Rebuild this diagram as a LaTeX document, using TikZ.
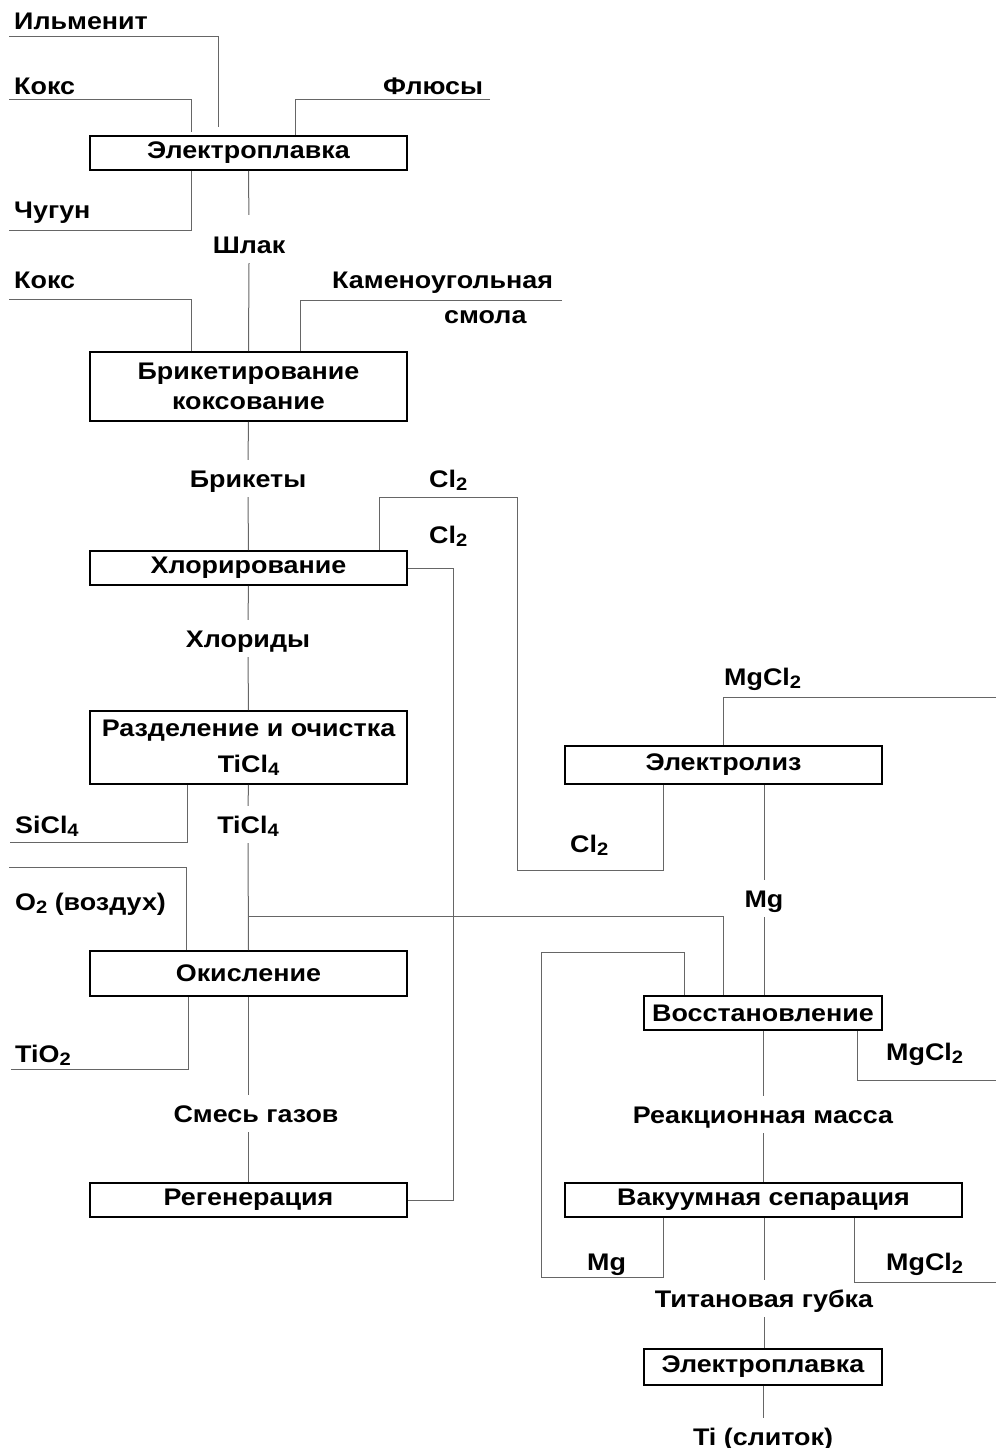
\documentclass[tikz,border=0pt]{standalone}
\usepackage{fontspec}
\setmainfont[FakeStretch=1.12]{Liberation Sans}
\usetikzlibrary{calc}
\newcommand{\ix}[1]{\raisebox{-3.5pt}{\fontsize{18}{18}\selectfont #1}}

\begin{document}
\begin{tikzpicture}[x=1pt,y=-1pt,
    every node/.style={font=\fontsize{24}{28}\selectfont\bfseries, inner sep=0pt},
    proc/.style={draw=black, line width=1.6pt, minimum width=317pt, minimum height=34pt, align=center},
    flow/.style={draw=black!60, line width=1pt},
    lbl/.style={anchor=base west},
    mid/.style={anchor=base, text height=17pt, text depth=0pt, inner ysep=10pt}]
    \useasboundingbox (0,0) rectangle (996,1448);

    % процессы
    \node[proc] (el1) at (248.5,153) {Электроплавка};
    \node[proc, minimum height=69pt, font=\fontsize{24}{30}\selectfont\bfseries] (brik) at (248.5,386.5) {Брикетирование\\коксование};
    \node[proc] (chlor) at (248.5,568) {Хлорирование};
    \node[proc, minimum height=73pt, font=\fontsize{24}{36}\selectfont\bfseries] (razd) at (248.5,747.5) {Разделение и очистка\\TiCl\ix{4}};
    \node[proc, minimum height=45pt] (okis) at (248.5,973.5) {Окисление};
    \node[proc] (regen) at (248.5,1200) {Регенерация};
    \node[proc, minimum height=38pt] (elz) at (723.5,765) {Электролиз};
    \node[proc, minimum width=238pt] (vosst) at (763,1013) {Восстановление};
    \node[proc, minimum width=397pt] (vak) at (763.5,1200) {Вакуумная сепарация};
    \node[proc, minimum width=238pt, minimum height=36pt] (el2) at (763,1367) {Электроплавка};

    % подписи
    \node[lbl] (ilm) at (14,29) {Ильменит};
    \node[lbl] (koks1) at (14,94) {Кокс};
    \node[lbl] (flus) at (383,94) {Флюсы};
    \node[lbl] (chug) at (14,218) {Чугун};
    \node[mid] (shlak) at (249,253) {Шлак};
    \node[lbl] (koks2) at (14,288) {Кокс};
    \node[lbl] (kam) at (332,288) {Каменоугольная};
    \node[lbl] (smola) at (444,323) {смола};
    \node[mid] (briket) at (248,487) {Брикеты};
    \node[lbl] (cla) at (429,487) {Cl\ix{2}};
    \node[lbl] (clb) at (429,543) {Cl\ix{2}};
    \node[mid] (chlorid) at (248,647) {Хлориды};
    \node[lbl] (sicl) at (15,833) {SiCl\ix{4}};
    \node[mid] (ticl) at (248,833) {TiCl\ix{4}};
    \node[lbl] (otwo) at (15,910) {O\ix{2} (воздух)};
    \node[lbl] (tio) at (15,1062) {TiO\ix{2}};
    \node[mid] (smes) at (256,1122) {Смесь газов};
    \node[lbl] (mgcla) at (724,685) {MgCl\ix{2}};
    \node[lbl] (clc) at (570,852) {Cl\ix{2}};
    \node[mid] (mg) at (764,907) {Mg};
    \node[lbl] (mgclb) at (886,1060) {MgCl\ix{2}};
    \node[mid] (reak) at (763,1123) {Реакционная масса};
    \node[lbl] (mgb) at (587,1270) {Mg};
    \node[lbl] (mgclc) at (886,1270) {MgCl\ix{2}};
    \node[mid] (gubka) at (764,1307) {Титановая губка};
    \node[mid] (slitok) at (763,1445) {Ti (слиток)};

    % свободные концы
    \coordinate (ilm-e) at (9,36);
    \coordinate (koks1-e) at (9,99);
    \coordinate (flus-e) at (490,99);
    \coordinate (chug-e) at (9,230);
    \coordinate (koks2-e) at (9,299);
    \coordinate (smola-e) at (562,300);
    \coordinate (sicl-e) at (10,842);
    \coordinate (otwo-e) at (9,867);
    \coordinate (tio-e) at (11,1069);
    \coordinate (ti-jn) at (248.5,916);
    \coordinate (mgcla-e) at (996,697);
    \coordinate (mgclb-e) at (996,1080);
    \coordinate (mgclc-e) at (996,1282);

    % левая колонна
    \draw[flow] (ilm-e) -| ($(el1.north)+(-30.5,-8)$);
    \draw[flow] (koks1-e) -| ($(el1.north)+(-57.5,-3)$);
    \draw[flow] (flus-e) -| ($(el1.north)+(46.5,0)$);
    \draw[flow] ($(el1.south)+(-57.5,0)$) |- (chug-e);
    \draw[flow, shorten >=11pt] (el1.south) -- (shlak.north);
    \draw[flow] (shlak.south) -- (brik.north);
    \draw[flow] (koks2-e) -| ($(brik.north)+(-57.5,0)$);
    \draw[flow] (smola-e) -| ($(brik.north)+(51.5,0)$);
    \draw[flow] (brik.south) -- (briket.north);
    \draw[flow] (briket.south) -- (chlor.north);
    \draw[flow] (chlor.south) -- (chlorid.north);
    \draw[flow] (chlorid.south) -- (razd.north);
    \draw[flow] ($(razd.south)+(-61.5,0)$) |- (sicl-e);
    \draw[flow] (razd.south) -- (ticl.north);
    \draw[flow] (ticl.south) -- (okis.north);
    \draw[flow] (otwo-e) -| ($(okis.north)+(-62.5,0)$);
    \draw[flow] ($(okis.south)+(-60.5,0)$) |- (tio-e);
    \draw[flow] (okis.south) -- (okis.south |- smes.north);
    \draw[flow] (regen.north |- smes.south) -- (regen.north);

    % хлор
    \draw[flow] (chlor.east) -| (453,1200) -- (regen.east);
    \draw[flow] ($(elz.south)+(-60.5,0)$) |- (517,870) |- (379,497) -- ($(chlor.north)+(130.5,0)$);

    % правая колонна
    \draw[flow] (ti-jn) -| ($(vosst.north)+(-40,0)$);
    \draw[flow] (mgcla-e) -| (elz.north);
    \draw[flow] (mg.north |- elz.south) -- (mg.north);
    \draw[flow] (mg.south) -- (mg.south |- vosst.north);
    \draw[flow] ($(vosst.south)+(94,0)$) |- (mgclb-e);
    \draw[flow] (vosst.south -| reak.north) -- (reak.north);
    \draw[flow] (reak.south) -- (reak.south |- vak.north);
    \draw[flow] ($(vak.south)+(-100.5,0)$) |- (541,1277) |- (684,952) -- ($(vosst.north)+(-79,0)$);
    \draw[flow] ($(vak.south)+(90.5,0)$) |- (mgclc-e);
    \draw[flow] (vak.south -| gubka.north) -- (gubka.north);
    \draw[flow] (gubka.south) -- (gubka.south |- el2.north);
    \draw[flow] (el2.south) -- (slitok.north);
\end{tikzpicture}
\end{document}
